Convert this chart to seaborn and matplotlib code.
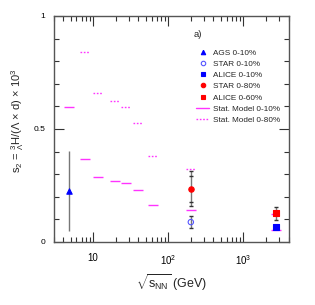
import numpy as np
import pandas as pd
import matplotlib
matplotlib.use("Agg")
import matplotlib.pyplot as plt
import seaborn as sns
from matplotlib.lines import Line2D
from matplotlib.ticker import NullFormatter, MultipleLocator

sns.set_style("ticks")
plt.rcParams['font.family'] = ['Liberation Sans', 'DejaVu Sans']
plt.rcParams['mathtext.fontset'] = 'custom'
plt.rcParams['mathtext.rm'] = 'Liberation Sans'
plt.rcParams['mathtext.it'] = 'Liberation Sans'

# ---- data ----
ags_x = [4.8];   ags_y = [0.225]; ags_err = [0.177]
star10_x = [200]; star10_y = [0.088]; star10_err = [0.027]
alice10_x = [2760]; alice10_y = [0.065]; alice10_err = [0.013]
star80_x = [200]; star80_y = [0.236]; star80_err = [0.077]; star80_sys = [0.058]
alice60_x = [2760]; alice60_y = [0.127]; alice60_err = [0.030]

sm10_x = [4.8, 7.7, 11.5, 19.6, 27, 39, 62.4, 200, 2760]
sm10_y = [0.596, 0.366, 0.288, 0.271, 0.261, 0.229, 0.165, 0.142, 0.053]
sm80_x = [7.7, 11.5, 19.6, 27, 39, 62.4, 200, 2760]
sm80_y = [0.841, 0.659, 0.624, 0.599, 0.525, 0.381, 0.324, 0.122]

magenta = '#ff33ff'

fig = plt.figure(figsize=(3.15, 3.05), dpi=100)
ax = fig.add_axes([0.170, 0.2066, 0.7475, 0.741])

hw = 1.165
ax.hlines(sm10_y, np.array(sm10_x) / hw, np.array(sm10_x) * hw, colors=magenta, lw=1.0, linestyles='solid')
ax.hlines(sm80_y, np.array(sm80_x) / hw, np.array(sm80_x) * hw, colors=magenta, lw=1.0, linestyles=(0, (1.2, 1.2)))

ecol = '#777777'
for xs, ys, es in [(ags_x, ags_y, ags_err), (star10_x, star10_y, star10_err),
                   (alice10_x, alice10_y, alice10_err), (star80_x, star80_y, star80_err),
                   (alice60_x, alice60_y, alice60_err)]:
    ax.errorbar(xs, ys, yerr=es, fmt='none', ecolor=ecol, elinewidth=1.0, capsize=0, zorder=3)
# systematic brackets
for xs, ys, es in [(star80_x, star80_y, star80_sys), (star80_x, star80_y, star80_err),
                   (star10_x, star10_y, star10_err), (alice60_x, alice60_y, alice60_err)]:
    ax.errorbar(xs, ys, yerr=es, fmt='none', ecolor='#333333', elinewidth=0,
                capsize=1.5, capthick=1.0, zorder=3)

pts = [
    (ags_x, ags_y, '^', 'blue', 'blue', 'AGS 0-10%'),
    (star10_x, star10_y, 'o', 'none', '#5555ff', 'STAR 0-10%'),
    (alice10_x, alice10_y, 's', 'blue', 'blue', 'ALICE 0-10%'),
    (star80_x, star80_y, 'o', 'red', 'red', 'STAR 0-80%'),
    (alice60_x, alice60_y, 's', 'red', 'red', 'ALICE 0-60%'),
]
handles = []
for xs, ys, m, fc, ec, lab in pts:
    df = pd.DataFrame({'x': xs, 'y': ys})
    sns.scatterplot(data=df, x='x', y='y', marker=m, s=15, color=fc if fc != 'none' else ec,
                    facecolors=fc if fc == 'none' else None, edgecolor=ec, linewidth=0.8, ax=ax, zorder=4)
    handles.append(Line2D([], [], marker=m, ls='none', markersize=3.2,
                          markerfacecolor=fc, markeredgecolor=ec, markeredgewidth=0.8, label=lab))
handles.append(Line2D([], [], color=magenta, lw=1.0, label='Stat. Model 0-10%'))
handles.append(Line2D([], [], color=magenta, lw=1.0, ls=(0, (1.2, 1.2)), label='Stat. Model 0-80%'))

ax.set_xscale('log')
ax.set_xlim(2.97, 4060)
ax.set_ylim(0, 1)
ax.set_xticks([10, 100, 1000])
ax.set_xticklabels(['10', r'10$^{2}$', r'10$^{3}$'])
ax.set_yticks([0, 0.5, 1])
ax.set_yticklabels(['0', '0.5', '1'])
ax.yaxis.set_minor_locator(MultipleLocator(0.1))
ax.xaxis.set_minor_locator(matplotlib.ticker.LogLocator(base=10, subs=np.arange(2, 10)))
ax.xaxis.set_minor_formatter(NullFormatter())
ax.tick_params(which='both', direction='in', top=True, right=True, colors='#333333', labelcolor='black')
ax.tick_params(which='major', length=7, width=0.8, labelsize=7, pad=8)
ax.tick_params(which='minor', length=3.5, width=0.8)
ax.tick_params(axis='y', which='major', labelsize=6, pad=6)
for sp in ax.spines.values():
    sp.set_color('#555555')
    sp.set_linewidth(1.0)

ax.set_xlabel(r'$\sqrt{s_{NN}}$ (GeV)', fontsize=9, labelpad=4)
ylab = ax.set_ylabel(r's$_2$ = $^{3}_{\Lambda}$H/($\Lambda$ $\times$ d) $\times$ 10$^{3}$', fontsize=8, labelpad=5)
ylab.set_y(0.535)

ax.text(0.595, 0.905, 'a)', transform=ax.transAxes, fontsize=6.8)
leg = ax.legend(handles=handles, loc='upper left', bbox_to_anchor=(0.592, 0.868), frameon=False,
                fontsize=5.9, handlelength=1.6, handletextpad=0.4, labelspacing=0.42, borderaxespad=0)

fig.savefig('out.png', dpi=100)
